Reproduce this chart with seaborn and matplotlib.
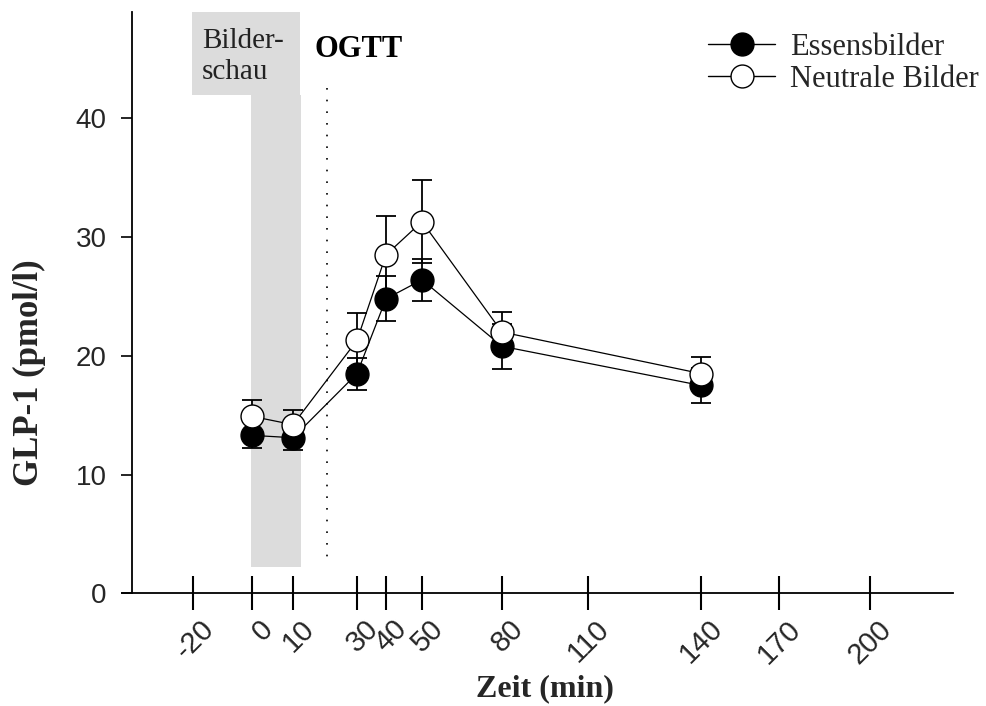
import numpy as np
import pandas as pd
import matplotlib
matplotlib.use("Agg")
import matplotlib.pyplot as plt
import seaborn as sns
from matplotlib.patches import Rectangle
from matplotlib.lines import Line2D
import matplotlib.transforms as mtransforms

# ---------------- data ----------------
time = [0, 10, 30, 40, 50, 80, 140]
essens_mean = [13.3, 13.1, 18.5, 24.8, 26.4, 20.8, 17.5]
essens_sem = [1.1, 1.0, 1.35, 1.9, 1.75, 1.9, 1.5]
neutral_mean = [14.9, 14.2, 21.3, 28.5, 31.3, 22.0, 18.5]
neutral_sem = [1.4, 1.2, 2.3, 3.3, 3.5, 1.7, 1.4]
series_names = ["Essensbilder", "Neutrale Bilder"]
xtick_values = [-20, 0, 10, 30, 40, 50, 80, 110, 140, 170, 200]
xtick_labels = ["-20", "0", "10", "30", "40", "50", "80", "110", "140", "170", "200"]
ytick_values = [0, 10, 20, 30, 40]

# ---------------- layout (non-linear, hand-drawn time axis) ----------------
axis_anchor_vals = [-50, -20, 0, 10, 30, 40, 50, 80, 110, 140, 170, 200, 250]
axis_anchor_pos = [104.5, 193, 252, 293, 357, 386, 422, 502, 588, 701, 779, 870, 1021.5]

def fwd(x):
    return np.interp(x, axis_anchor_vals, axis_anchor_pos)

def inv(p):
    return np.interp(p, axis_anchor_pos, axis_anchor_vals)

SERIF = ["Liberation Serif", "DejaVu Serif"]
SANS = ["Liberation Sans", "DejaVu Sans"]

sns.set_theme(style="white")
plt.rcParams["font.family"] = SANS

W, H = 986, 706
fig = plt.figure(figsize=(W / 100, H / 100), dpi=100)
x0, x1 = 122, 953
y_axis_px, y_top_px = 593.3, 12
ax = fig.add_axes([x0 / W, (H - y_axis_px) / H, (x1 - x0) / W, (y_axis_px - y_top_px) / H])
ax.patch.set_alpha(0)
ax.set_xscale("function", functions=(fwd, inv))

def fx(px):
    return px / W

def fy(py):
    return 1 - py / H

# ---------------- annotations (figure pixel layout) ----------------
gray = "#dcdcdc"
ax.add_patch(Rectangle((fx(192), fy(95)), fx(300) - fx(192), fy(12) - fy(95),
                       transform=fig.transFigure, facecolor=gray, edgecolor="none",
                       zorder=0, clip_on=False))
ax.add_patch(Rectangle((fx(251), fy(567)), fx(301) - fx(251), fy(95) - fy(567),
                       transform=fig.transFigure, facecolor=gray, edgecolor="none",
                       zorder=0, clip_on=False))
ax.add_line(Line2D([fx(327), fx(327)], [fy(88), fy(566)], transform=fig.transFigure,
                   color="black", lw=1.2, linestyle=(0, (1, 6)), zorder=1, clip_on=False))
fig.text(fx(202), fy(48), "Bilder-", family=SERIF, fontsize=21, color="#222222",
         ha="left", va="baseline")
fig.text(fx(202), fy(79), "schau", family=SERIF, fontsize=21, color="#222222",
         ha="left", va="baseline")
fig.text(fx(314), fy(57), "OGTT", family=SERIF, fontsize=22, fontweight="bold",
         color="black", ha="left", va="baseline")

# ---------------- data marks ----------------
df = pd.DataFrame({
    "time": time * 2,
    "value": essens_mean + neutral_mean,
    "sem": essens_sem + neutral_sem,
    "group": [series_names[0]] * len(time) + [series_names[1]] * len(time),
})
fills = {series_names[0]: "black", series_names[1]: "white"}
zs = {series_names[0]: 4, series_names[1]: 5}
for name in series_names:
    d = df[df["group"] == name]
    ax.errorbar(d["time"], d["value"], yerr=d["sem"], fmt="none", ecolor="black",
                elinewidth=1.3, capsize=7, capthick=1.3, zorder=2)
for name in series_names:
    d = df[df["group"] == name]
    sns.lineplot(data=d, x="time", y="value", ax=ax, color="black", linewidth=0.9,
                 marker="o", markersize=16.5, markerfacecolor=fills[name],
                 markeredgecolor="black", markeredgewidth=1.0, zorder=zs[name],
                 legend=False, errorbar=None)

# ---------------- axes styling ----------------
ax.set_xlim(inv(x0), inv(x1))
ax.set_ylim(0, 48.95)
for s in ["top", "right"]:
    ax.spines[s].set_visible(False)
ax.spines["left"].set_position(("axes", (131.7 - x0) / (x1 - x0)))
for s in ["left", "bottom"]:
    ax.spines[s].set_color("black")
    ax.spines[s].set_linewidth(1.3)
ax.grid(False)
ax.set_xlabel("")
ax.set_ylabel("")

ax.set_xticks(xtick_values)
ax.set_xticklabels(xtick_labels)
ax.set_yticks(ytick_values)
ax.set_yticklabels([str(v) for v in ytick_values])
ax.tick_params(axis="x", direction="inout", length=25, width=1.5, color="black",
               pad=10, labelsize=21, labelrotation=45, bottom=True)
ax.tick_params(axis="y", direction="out", length=8, width=1.2, color="black",
               pad=10, labelsize=20, left=True)

shift = mtransforms.ScaledTranslation(17 / 100, 0, fig.dpi_scale_trans)
for lab in ax.get_xticklabels():
    lab.set_family(SANS)
    lab.set_fontsize(21)
    lab.set_rotation(45)
    lab.set_ha("right")
    lab.set_va("center")
    lab.set_rotation_mode("anchor")
    lab.set_transform(lab.get_transform() + shift)
for lab in ax.get_yticklabels():
    lab.set_family(SANS)
    lab.set_fontsize(20)

fig.text(fx(545), fy(689), "Zeit (min)", family=SERIF, fontsize=23, fontweight="bold",
         ha="center", va="center")
fig.text(fx(29), fy(373), "GLP-1 (pmol/l)", family=SERIF, fontsize=25, fontweight="bold",
         ha="center", va="center", rotation=90)

handles = [Line2D([], [], color="black", lw=1.0, marker="o", markersize=16.5,
                  markerfacecolor=fills[n], markeredgecolor="black") for n in series_names]
fig.legend(handles, series_names, loc="upper left", bbox_to_anchor=(fx(708), fy(33)),
           bbox_transform=fig.transFigure, frameon=False,
           prop={"family": SERIF, "size": 22}, handlelength=2.2, handletextpad=0.5,
           labelspacing=0.1, borderpad=0, borderaxespad=0)

fig.savefig("out.png", dpi=100)
